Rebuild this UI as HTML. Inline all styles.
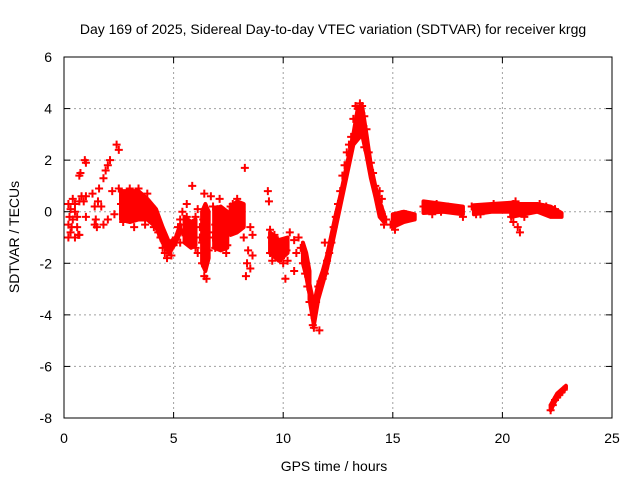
<!DOCTYPE html>
<html><head><meta charset="utf-8"><style>
body{margin:0;background:#fff;}
svg text{font-family:"Liberation Sans",sans-serif;fill:#000;}
</style></head><body>
<svg id="chart" width="640" height="480" viewBox="0 0 640 480" xmlns="http://www.w3.org/2000/svg">
<rect width="640" height="480" fill="#fff"/>
<text x="333" y="34" font-size="14" text-anchor="middle">Day 169 of 2025, Sidereal Day-to-day VTEC variation (SDTVAR) for receiver krgg</text>
<g id="grid"></g>
<g id="bands"></g>
<g id="points"></g>
<rect x="64" y="57" width="548" height="361" fill="none" stroke="#000" stroke-width="1"/>
<g id="ticks"></g>
<text x="334" y="471" font-size="14" text-anchor="middle">GPS time / hours</text>
<text transform="translate(19,237) rotate(-90)" font-size="14" text-anchor="middle">SDTVAR / TECUs</text>
</svg>
<script>
const xTicks=[0,5,10,15,20,25];
const yTicks=[-8,-6,-4,-2,0,2,4,6];
const hours=[0.2,0.2,0.2,0.3,0.3,0.4,0.4,0.5,0.5,0.6,0.7,0.7,0.8,0.6,0.7,0.75,1.0,0.95,0.9,1.0,1.0,1.3,1.4,1.5,1.4,1.6,1.7,1.8,1.9,2.0,2.1,1.8,2.0,2.2,2.4,2.5,2.3,2.5,2.6,2.7,2.8,2.9,3.0,3.1,3.2,3.3,3.4,3.5,3.6,3.7,3.8,3.9,4.0,4.1,4.2,4.3,4.4,4.5,4.6,4.7,4.8,4.9,5.0,5.1,5.2,5.3,5.4,5.3,5.4,5.5,5.6,5.6,5.7,5.8,5.85,6.0,6.0,6.1,6.1,6.2,6.3,6.3,6.4,6.5,6.4,6.5,6.6,6.6,6.7,6.8,6.9,6.9,7.0,7.0,7.1,7.2,7.3,7.4,7.5,7.6,7.7,7.8,7.9,8.0,8.1,8.2,8.25,8.3,8.35,8.4,8.5,8.5,8.6,8.6,9.3,9.35,9.4,9.4,9.5,9.5,9.6,9.7,9.8,9.9,10.0,10.1,10.15,10.3,10.5,10.5,10.6,10.7,10.8,10.9,11.0,11.1,11.2,11.3,11.35,11.4,11.5,11.6,11.65,11.7,11.8,11.9,11.9,12.0,12.1,12.2,12.3,12.4,12.5,12.6,12.7,12.8,12.9,13.0,13.1,13.2,13.3,13.4,13.5,13.6,13.7,13.7,13.8,13.9,14.0,14.1,14.2,14.3,14.4,14.5,14.6,14.4,14.5,14.7,14.9,15.1,15.2,15.4,15.6,15.9,16.4,16.6,16.8,17.0,17.2,17.5,17.8,18.0,18.2,18.6,18.8,19.0,19.2,19.4,19.6,19.8,20.0,20.2,20.4,20.5,20.7,20.8,20.5,20.6,20.9,21.0,21.2,21.5,21.7,22.0,22.2,22.4,22.6,22.2,22.3,22.4,22.5,22.6,22.7,22.8,0.25,0.35,0.5,0.65,1.45,1.55,6.2,6.35,6.8,7.05,7.25,7.45,7.65,7.85,9.45,9.55,9.75,9.9,10.0,10.2];
const values=[0.3,-0.5,-1.0,0.1,-0.8,0.5,-0.3,-1.0,0.3,-0.6,0.4,-0.9,0.6,-0.2,1.4,1.5,1.9,2.0,0.4,-0.2,0.6,0.7,0.2,-0.6,-0.5,0.9,0.2,1.3,1.6,1.8,2.0,-0.5,-0.3,0.8,2.6,2.4,-0.1,0.9,0.3,-0.4,0.6,-0.3,0.9,0.2,-0.6,0.5,0.9,-0.2,0.4,-0.5,0.7,-0.3,0.2,-0.6,-0.2,-0.8,-1.0,-1.4,-1.6,-1.8,-1.5,-1.7,-1.3,-1.0,-0.6,-0.3,0.0,-1.2,-0.8,-0.5,0.3,-0.2,-0.7,-1.0,1.0,-0.2,-1.4,-1.6,0.1,-0.6,-1.2,-2.0,-2.5,-2.6,0.7,0.0,-0.8,-1.5,0.6,0.2,-0.5,-1.4,-1.0,0.1,0.5,-0.3,-1.2,-1.6,-0.5,0.2,0.3,-0.6,0.5,-0.3,0.0,-1.0,1.7,-2.5,-2.0,-1.5,-0.6,-2.2,-1.7,-0.9,0.8,0.4,-0.7,-1.6,-1.2,-1.9,-0.9,-1.3,-1.7,-1.4,-2.0,-2.6,-1.5,-0.8,-1.1,-2.3,-1.6,-1.0,-1.4,-2.0,-2.4,-2.9,-3.5,-4.0,-4.4,-4.5,-3.5,-2.9,-4.6,-2.7,-2.6,-2.4,-1.2,-1.9,-1.6,-1.2,-0.6,-0.2,0.3,0.8,1.4,1.8,2.3,2.6,2.9,3.6,4.1,4.0,4.2,4.1,3.7,2.5,3.2,2.3,1.9,1.5,1.0,0.6,0.2,-0.1,-0.5,0.8,0.5,-0.3,-0.5,-0.7,-0.3,-0.1,-0.1,-0.2,0.2,0.1,-0.1,0.3,0.0,0.2,0.1,0.1,-0.2,0.2,-0.1,-0.1,0.2,0.1,0.3,0.2,0.2,0.1,-0.2,-0.4,-0.6,-0.8,0.3,0.4,0.0,-0.2,0.2,0.1,0.3,0.2,-0.1,0.1,-0.1,-7.7,-7.5,-7.3,-7.2,-7.1,-7.0,-6.9,-0.2,-0.6,0.0,-0.9,-0.3,0.4,-1.0,-0.3,-1.0,-0.6,-0.1,-1.3,0.0,-0.2,-1.0,-1.5,-1.1,-1.8,-1.6,-1.9];
// dense-band envelopes: segment id per time, time, low, high
const bandSeg=[0,0,0,0,0,0,0,0,0,1,1,1,1,1,1,1,1,1,1,1,1,1,1,1,1,1,1,2,2,2,3,3,3,4,4,4,5,5,5,5,5,6,6,6,7,7,7,8,8,8,9,9,9,10,10,10,11,11,11,12,12,12];
const bandHours=[2.6,3.0,3.4,3.8,4.2,4.5,4.8,5.1,5.3,11.2,11.4,11.6,11.8,12.0,12.2,12.4,12.6,12.8,13.0,13.2,13.4,13.6,13.8,14.0,14.2,14.4,14.6,15.0,15.5,16.0,16.4,17.3,18.2,18.7,19.5,20.4,20.4,21.0,21.6,22.2,22.7,22.2,22.5,22.9,5.5,5.8,6.0,6.3,6.45,6.6,6.85,7.15,7.45,7.6,7.9,8.2,9.4,9.8,10.2,10.9,11.05,11.2];
const bandLow=[-0.3,-0.4,-0.3,-0.3,-0.6,-1.2,-1.6,-1.2,-0.8,-3.4,-4.4,-3.4,-2.8,-2.2,-1.4,-0.6,0.2,1.0,1.8,2.6,2.8,3.0,2.2,1.3,0.6,-0.2,-0.4,-0.6,-0.4,-0.3,-0.05,0.0,-0.1,-0.1,0.0,0.0,-0.2,-0.1,0.0,-0.2,-0.2,-7.7,-7.2,-6.85,-1.2,-1.4,-1.3,-2.0,-2.3,-1.8,-1.4,-1.5,-1.4,-0.9,-0.8,-0.6,-1.6,-1.9,-1.6,-2.0,-2.5,-3.2];
const bandHigh=[0.8,0.8,0.8,0.5,0.1,-0.6,-1.2,-1.0,-0.5,-2.8,-3.6,-2.8,-2.3,-1.7,-0.9,-0.1,0.6,1.4,2.2,3.0,4.0,4.1,3.0,1.8,1.0,0.4,-0.1,-0.1,0.0,-0.1,0.4,0.3,0.2,0.25,0.3,0.35,0.3,0.3,0.3,0.2,-0.05,-7.5,-7.05,-6.75,-0.2,-0.4,-0.3,0.0,0.3,0.0,0.1,0.2,0.0,0.2,0.4,0.3,-0.8,-1.1,-1.0,-1.2,-1.6,-2.3];
const NS="http://www.w3.org/2000/svg";
const X0=64,X1=612,Y0=418,Y1=57;
function xs(t){return X0+(t-0)/(25-0)*(X1-X0);}
function ys(v){return Y0-(v+8)/(14)*(Y0-Y1);}
const grid=document.getElementById('grid'),ticks=document.getElementById('ticks'),pts=document.getElementById('points'),bands=document.getElementById('bands');
function mk(tag,attrs,parent){const e=document.createElementNS(NS,tag);for(const k in attrs)e.setAttribute(k,attrs[k]);parent.appendChild(e);return e;}
xTicks.forEach(t=>{const x=xs(t);
 if(t>0&&t<25){const g=mk('line',{x1:x,y1:Y1,x2:x,y2:Y0,stroke:'#a0a0a0','stroke-dasharray':'2,3'},grid);
 
 }
 const a=mk('line',{x1:x,y1:Y0,x2:x,y2:Y0-6,stroke:'#000'},ticks);
 
 
 const b=mk('line',{x1:x,y1:Y1,x2:x,y2:Y1+6,stroke:'#000'},ticks);
 
 
 const l=mk('text',{x:x,y:443,'font-size':14,'text-anchor':'middle'},ticks);l.textContent=t;
 
 
});
yTicks.forEach(v=>{const y=ys(v);
 if(v>-8&&v<6){const g=mk('line',{x1:X0,y1:y,x2:X1,y2:y,stroke:'#a0a0a0','stroke-dasharray':'2,3'},grid);
 
 }
 const a=mk('line',{x1:X0,y1:y,x2:X0+6,y2:y,stroke:'#000'},ticks);
 
 
 const b=mk('line',{x1:X1,y1:y,x2:X1-6,y2:y,stroke:'#000'},ticks);
 
 
 const l=mk('text',{x:52,y:y+5,'font-size':14,'text-anchor':'end'},ticks);l.textContent=v;
 
 
});
const segs={};
bandHours.forEach((t,i)=>{(segs[bandSeg[i]]=segs[bandSeg[i]]||[]).push(i);});
Object.keys(segs).forEach(k=>{const idx=segs[k];
 const top=idx.map(i=>xs(bandHours[i])+','+ys(bandHigh[i]));
 const bot=idx.slice().reverse().map(i=>xs(bandHours[i])+','+ys(bandLow[i]));
 const p=mk('polygon',{points:top.concat(bot).join(' '),fill:'#ff0000',stroke:'#ff0000','stroke-width':4,'stroke-linejoin':'round'},bands);
 
 
});
hours.forEach((t,i)=>{const x=xs(t),y=ys(values[i]);
 const p=mk('path',{d:`M${x-4},${y}H${x+4}M${x},${y-4}V${y+4}`,stroke:'#ff0000','stroke-width':2},pts);
 
 
});
</script>
</body></html>
